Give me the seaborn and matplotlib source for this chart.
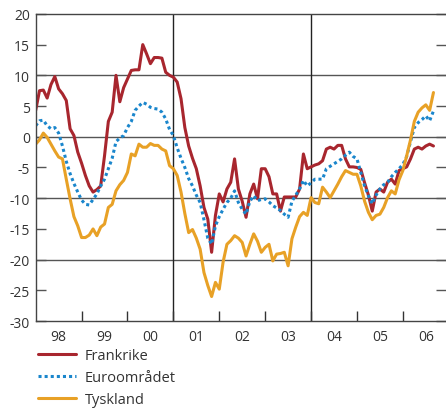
import numpy as np
import pandas as pd
import matplotlib
matplotlib.use("Agg")
import matplotlib.pyplot as plt
import seaborn as sns

# =========================
# DATA (monthly, Jan 1998 - Sep 2006)
# =========================

frankrike = [4.3, 7.5, 7.6, 6.3, 8.5, 9.8, 7.8, 7.0, 5.9, 1.3, 0.2, -2.5,
             -4.3, -6.3, -8.0, -9.0, -8.6, -8.0, -3.1, 2.5, 4.0, 10.0, 5.7, 8.0,
             9.4, 10.8, 10.9, 10.9, 15.0, 13.5, 11.9, 12.9, 12.9, 12.8, 10.5, 10.0,
             9.7, 8.9, 6.2, 1.5, -1.5, -3.5, -5.2, -8.0, -11.5, -13.4, -18.8, -12.8,
             -9.3, -10.6, -8.5, -7.4, -3.6, -8.5, -10.5, -13.1, -9.3, -7.7, -10.1, -5.2,
             -5.2, -6.5, -9.3, -9.3, -12.1, -9.8, -9.8, -9.8, -9.8, -8.5, -2.8, -5.2,
             -4.9, -4.6, -4.4, -3.9, -2.0, -1.7, -2.0, -1.4, -1.4, -3.6, -4.9, -4.9,
             -5.0, -5.3, -7.5, -9.5, -12.1, -9.0, -8.5, -9.0, -7.4, -6.9, -7.7, -5.5,
             -5.2, -4.9, -3.6, -2.0, -1.7, -2.0, -1.5, -1.2, -1.5]

euroomradet = [1.8, 2.6, 2.7, 1.8, 1.3, 1.5, 0.6, -1.5, -4.0, -6.0, -7.6, -9.0,
               -10.3, -11.0, -11.1, -10.2, -9.3, -8.0, -6.9, -5.2, -3.5, -0.8, -0.2, 0.2,
               1.5, 2.5, 4.3, 5.0, 5.6, 5.3, 4.8, 4.6, 4.5, 4.0, 2.9, 1.2,
               0.2, -1.8, -3.5, -5.0, -6.8, -8.0, -9.5, -10.7, -13.5, -16.5, -17.5, -14.5,
               -13.0, -11.8, -10.7, -10.0, -8.8, -10.7, -11.8, -12.6, -10.5, -9.6, -10.4, -10.2,
               -10.1, -10.6, -11.2, -11.6, -12.0, -12.6, -13.1, -10.5, -9.5, -8.5, -7.1, -8.0,
               -7.5, -6.9, -6.9, -6.9, -5.2, -4.8, -4.4, -4.0, -3.6, -3.0, -2.5, -3.2,
               -3.6, -5.8, -8.0, -9.6, -10.9, -9.5, -8.5, -7.8, -7.4, -6.5, -5.8, -5.2,
               -4.5, -3.2, -0.8, 1.5, 2.3, 2.8, 3.4, 2.6, 4.2]

tyskland = [-1.2, -0.5, 0.6, -0.1, -1.2, -2.3, -3.3, -3.6, -6.9, -10.1, -13.0, -14.5,
            -16.4, -16.4, -16.0, -15.0, -16.1, -14.7, -14.2, -11.5, -11.0, -8.8, -7.8, -7.1,
            -5.8, -2.8, -3.1, -1.2, -1.7, -1.7, -1.1, -1.4, -1.4, -2.0, -2.3, -4.7,
            -5.2, -6.3, -9.0, -12.5, -15.6, -15.1, -16.5, -18.3, -22.1, -24.2, -26.0, -23.7,
            -24.8, -20.4, -17.5, -16.9, -16.1, -16.5, -17.2, -19.4, -17.5, -15.8, -17.0, -18.8,
            -18.0, -17.5, -20.2, -19.1, -19.0, -18.8, -21.0, -16.6, -14.7, -13.0, -12.3, -12.8,
            -9.9, -10.7, -10.9, -8.2, -9.0, -9.9, -8.8, -7.7, -6.5, -5.5, -5.8, -6.1,
            -6.1, -8.0, -10.5, -12.3, -13.5, -12.8, -12.6, -11.5, -9.9, -8.8, -9.3, -7.0,
            -5.5, -3.1, -0.5, 2.5, 4.0, 4.7, 5.2, 4.3, 7.2]

year_labels = ["98", "99", "00", "01", "02", "03", "04", "05", "06"]
series_names = ["Frankrike", "Euroområdet", "Tyskland"]

# =========================
# BUILD DATAFRAME
# =========================

t = 1998 + np.arange(len(frankrike)) / 12
df = pd.DataFrame({
    "t": np.concatenate([t, t, t]),
    "value": frankrike + euroomradet + tyskland,
    "serie": np.repeat(series_names, len(t)),
})

# =========================
# PLOT
# =========================

sns.set_style("white")
plt.rcParams["font.family"] = ["Open Sans", "DejaVu Sans"]
plt.rcParams["axes.unicode_minus"] = False

fig = plt.figure(figsize=(4.46, 4.14), dpi=100)
ax = fig.add_axes([0.080, 0.222, 0.920, 0.742])

colors = {"Frankrike": "#a8262e", "Euroområdet": "#1a86cc", "Tyskland": "#e8a126"}
styles = {"Frankrike": "-", "Euroområdet": (0, (1, 1)), "Tyskland": "-"}

for name in series_names:
    sub = df[df["serie"] == name]
    sns.lineplot(data=sub, x="t", y="value", ax=ax, color=colors[name],
                 linestyle=styles[name], linewidth=2.2, label=name)

ax.set_xlim(1998, 2006.94)
ax.set_ylim(-30, 20)

for y in [10, 0, -10, -20]:
    ax.axhline(y, color="#555555", lw=1.0, zorder=0)
for x in [2001, 2004]:
    ax.axvline(x, color="#222222", lw=1.0, zorder=0)

ax.set_yticks(np.arange(-30, 21, 5))
ax.set_yticklabels([str(v) for v in range(-30, 21, 5)])
ax.set_xticks(np.arange(1999, 2007))
ax.set_xticklabels([])
ax.set_xticks(np.arange(1998.5, 2007, 1), minor=True)
ax.set_xticklabels(year_labels, minor=True)

ax.tick_params(axis="y", which="major", direction="in", length=7, width=1,
               color="#555555", labelsize=10, labelcolor="#333333",
               left=True, right=True, pad=4)
ax.tick_params(axis="x", which="major", direction="in", length=7, width=1,
               color="#333333", bottom=True)
ax.tick_params(axis="x", which="minor", length=0, labelsize=10,
               labelcolor="#333333", pad=6)

ax.spines["right"].set_visible(False)
for s in ["top", "left", "bottom"]:
    ax.spines[s].set_color("#444444")
    ax.spines[s].set_linewidth(1.0)

ax.set_xlabel("")
ax.set_ylabel("")
ax.get_legend().remove()

handles, labels = ax.get_legend_handles_labels()
fig.legend(handles, labels, loc="upper left", bbox_to_anchor=(0.065, 0.178),
           frameon=False, fontsize=10.5, handlelength=2.6, labelspacing=0.48,
           handletextpad=0.6, labelcolor="#333333", borderaxespad=0.2)

fig.savefig("out.png", dpi=100)
